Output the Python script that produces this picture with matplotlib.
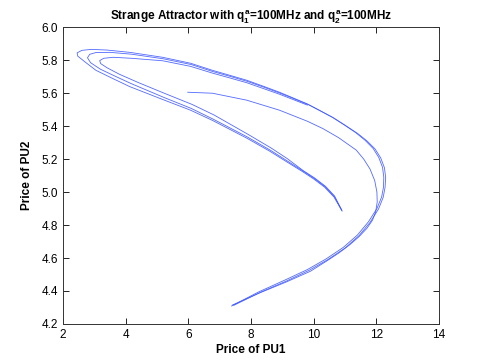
import matplotlib
matplotlib.use("Agg")
import matplotlib.pyplot as plt
import numpy as np

plt.rcParams["font.family"] = ["Liberation Sans", "DejaVu Sans"]
plt.rcParams["mathtext.fontset"] = "custom"
plt.rcParams["mathtext.rm"] = "Liberation Sans:bold"
plt.rcParams["mathtext.it"] = "Liberation Sans:bold"
plt.rcParams["mathtext.bf"] = "Liberation Sans:bold"

# strands of the attractor (price PU1, price PU2)
inner_x = [5.98, 6.77, 7.86, 8.91, 9.80, 10.30, 10.80, 11.36, 11.60, 11.80, 11.95,
           12.02, 12.03, 11.98, 11.88, 11.70, 11.45, 11.15, 10.80, 10.40, 9.90, 9.13,
           8.27, 7.41]
inner_y = [5.606, 5.600, 5.558, 5.497, 5.430, 5.385, 5.330, 5.255, 5.200, 5.140, 5.070,
           5.000, 4.940, 4.880, 4.830, 4.780, 4.730, 4.680, 4.630, 4.580, 4.520, 4.455,
           4.388, 4.315]

outer_x = [7.38, 8.24, 9.09, 9.80, 10.40, 10.95, 11.40, 11.75, 12.02, 12.17, 12.23,
           12.24, 12.20, 12.08, 11.90, 11.64, 11.35, 11.00, 10.59, 10.20, 9.80, 9.30,
           8.91, 8.40, 7.86, 7.30, 6.77, 6.07, 5.18, 4.13, 3.40, 2.90, 2.60, 2.45,
           2.47, 2.70, 3.05, 3.60, 4.13, 5.18, 6.07, 6.77, 7.86, 8.60, 9.13, 9.64,
           10.00, 10.35, 10.65, 10.91]
outer_y = [4.309, 4.394, 4.467, 4.530, 4.595, 4.665, 4.740, 4.820, 4.900, 4.970, 5.030,
           5.090, 5.150, 5.210, 5.265, 5.315, 5.360, 5.405, 5.455, 5.495, 5.535, 5.575,
           5.606, 5.642, 5.679, 5.710, 5.739, 5.782, 5.818, 5.848, 5.862, 5.866, 5.860,
           5.845, 5.825, 5.790, 5.739, 5.688, 5.640, 5.562, 5.497, 5.435, 5.328, 5.248,
           5.185, 5.125, 5.080, 5.030, 4.970, 4.885]

middle_x = [7.45, 8.30, 9.15, 9.86, 10.45, 11.00, 11.45, 11.80, 12.07, 12.22, 12.28,
            12.30, 12.26, 12.14, 11.96, 11.70, 11.41, 11.05, 10.64, 10.24, 9.84, 9.33,
            8.93, 8.42, 7.88, 7.32, 6.79, 6.09, 5.20, 4.18, 3.50, 3.05, 2.85, 2.78,
            2.88, 3.20, 3.70, 4.18, 5.20, 6.09, 6.79, 7.88, 8.62, 9.15, 9.66, 10.02,
            10.37, 10.66, 10.90]
middle_y = [4.313, 4.392, 4.462, 4.526, 4.590, 4.660, 4.736, 4.816, 4.897, 4.968, 5.028,
            5.088, 5.148, 5.208, 5.262, 5.311, 5.355, 5.400, 5.450, 5.490, 5.530, 5.570,
            5.600, 5.636, 5.672, 5.703, 5.731, 5.774, 5.809, 5.837, 5.848, 5.847, 5.836,
            5.815, 5.785, 5.745, 5.700, 5.658, 5.576, 5.508, 5.443, 5.335, 5.254, 5.190,
            5.128, 5.083, 5.032, 4.973, 4.890]

loop3_x = [9.80, 9.30, 8.91, 8.40, 7.86, 7.30, 6.77, 6.07, 5.18, 4.18, 3.60, 3.30,
           3.17, 3.20, 3.40, 3.80, 4.40, 5.23, 6.12, 6.82, 7.91, 8.64, 9.16, 9.67,
           10.03, 10.38, 10.67, 10.89]
loop3_y = [5.528, 5.565, 5.594, 5.628, 5.664, 5.694, 5.722, 5.763, 5.797, 5.812, 5.818,
           5.812, 5.798, 5.780, 5.755, 5.715, 5.665, 5.600, 5.532, 5.468, 5.350, 5.268,
           5.203, 5.130, 5.086, 5.035, 4.976, 4.892]

strands = [(inner_x, inner_y), (outer_x, outer_y), (middle_x, middle_y),
           (loop3_x, loop3_y)]

fig = plt.figure(figsize=(4.85, 3.64), dpi=100)
ax = fig.add_axes([0.13, 0.11, 0.775, 0.815])

for sx, sy in strands:
    ax.plot(sx, sy, color=(0.25, 0.35, 1.0), linewidth=0.6, alpha=0.9)

ax.set_xlim(2, 14)
ax.set_ylim(4.2, 6)
ax.set_xticks(np.arange(2, 15, 2))
ax.set_yticks(np.round(np.arange(4.2, 6.01, 0.2), 1))
ax.tick_params(direction="in", top=True, right=True, labelsize=8.5, length=4, width=0.6)
for sp in ax.spines.values():
    sp.set_linewidth(0.7)
    sp.set_color("#333333")

ax.set_xlabel("Price of PU1", fontsize=8.5, fontweight="bold", labelpad=2)
ax.set_ylabel("Price of PU2", fontsize=8.5, fontweight="bold", labelpad=6)
ax.set_title(r"Strange Attractor with $q_1^a$=100MHz and $q_2^a$=100MHz",
             fontsize=8.5, fontweight="bold", pad=5)

fig.savefig("out.png", dpi=100)
